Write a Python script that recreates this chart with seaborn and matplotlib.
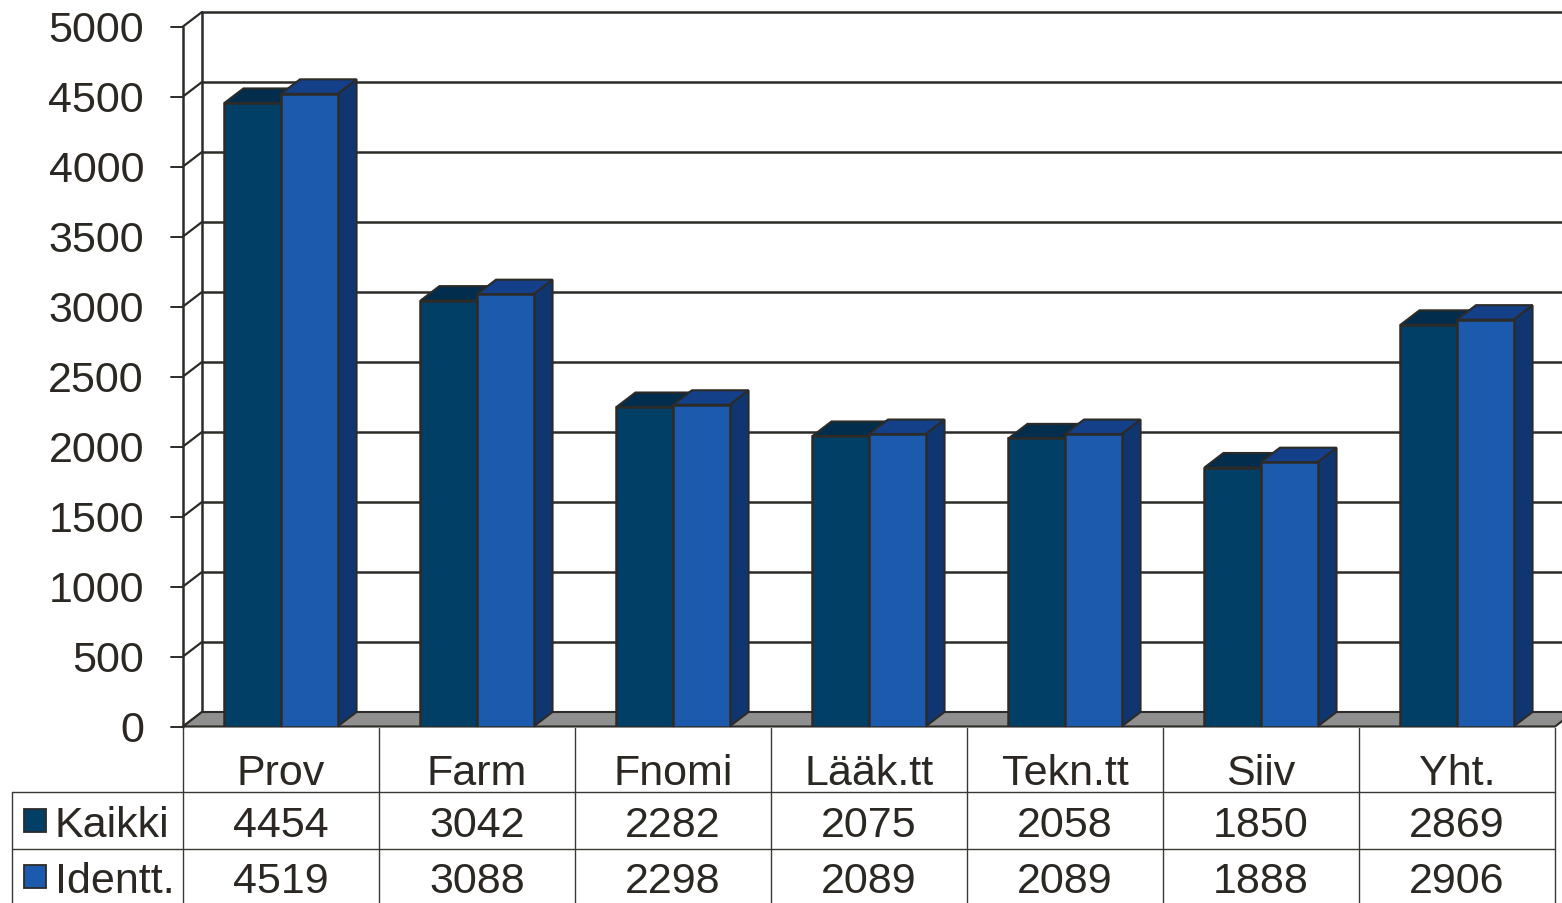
import pandas as pd
import matplotlib
matplotlib.use("Agg")
import matplotlib.pyplot as plt
import matplotlib.transforms as mtransforms
from matplotlib.patches import Polygon, Rectangle
import seaborn as sns

categories = ["Prov", "Farm", "Fnomi", "Lääk.tt", "Tekn.tt", "Siiv", "Yht."]
kaikki = [4454, 3042, 2282, 2075, 2058, 1850, 2869]
identt = [4519, 3088, 2298, 2089, 2089, 1888, 2906]
series_names = ["Kaikki", "Identt."]
y_ticks = [0, 500, 1000, 1500, 2000, 2500, 3000, 3500, 4000, 4500, 5000]

front_colors = ["#023f66", "#1b5aad"]
top_colors = ["#022d4c", "#134088"]
side_colors = ["#01304f", "#0f3670"]
edge = "#2d2b28"
text_color = "#2b2824"
floor_color = "#8f8f8f"

df = pd.DataFrame({
    "kategoria": categories * 2,
    "arvo": kaikki + identt,
    "sarja": [series_names[0]] * len(categories) + [series_names[1]] * len(categories),
})

W, H = 1562, 904
FS = 31
sns.set_style("white")
plt.rcParams["font.family"] = ["Liberation Sans", "DejaVu Sans"]

fig = plt.figure(figsize=(W / 100, H / 100), dpi=100)
ax = fig.add_axes([183 / W, (H - 727.5) / H, (1555 - 183) / W, 700 / H])

sns.barplot(data=df, x="kategoria", y="arvo", hue="sarja", palette=front_colors,
            saturation=1, width=0.577, edgecolor=edge, linewidth=1.8,
            legend=False, zorder=3, ax=ax)
ax.set_xlim(-0.5, len(categories) - 0.5)
ax.set_ylim(0, 5000)
ax.axis("off")

# pseudo 3D depth (pixels)
DX, DY = 19, 14.5
back = ax.transData + mtransforms.Affine2D().translate(DX, DY)
ident = mtransforms.IdentityTransform()
to_px = ax.transData.transform

# floor
p0 = to_px((-0.5, 0))
p1 = to_px((len(categories) - 0.5, 0))
floor = Polygon([p0, p1, (p1[0] + DX, p1[1] + DY), (p0[0] + DX, p0[1] + DY)],
                closed=True, facecolor=floor_color, edgecolor=edge, linewidth=1.5,
                transform=ident, clip_on=False, zorder=2)
ax.add_patch(floor)

# back wall gridlines, left wall, ticks
for v in y_ticks:
    ax.plot([-0.5, len(categories) - 0.5], [v, v], color=edge, lw=1.8,
            transform=back, clip_on=False, zorder=1)
    pf = to_px((-0.5, v))
    ax.plot([pf[0], pf[0] + DX], [pf[1], pf[1] + DY], color=edge, lw=1.6,
            transform=ident, clip_on=False, zorder=1)
    ax.plot([pf[0] - 12, pf[0]], [pf[1], pf[1]], color=edge, lw=1.4,
            transform=ident, clip_on=False, zorder=1)
    ax.text(pf[0] - 39, pf[1] - 15, str(v), ha="right", va="baseline",
            fontsize=FS, color=text_color, transform=ident)
ax.plot([-0.5, -0.5], [0, 5000], color=edge, lw=1.8, clip_on=False, zorder=1)
ax.plot([-0.5, -0.5], [0, 5000], color=edge, lw=1.8, transform=back,
        clip_on=False, zorder=1)

# top and side faces of the bars
for cont, tc, sc in zip(ax.containers, top_colors, side_colors):
    for bar in cont:
        x0, y0 = to_px((bar.get_x(), 0))
        x1, y1 = to_px((bar.get_x() + bar.get_width(), bar.get_height()))
        top = Polygon([(x0, y1), (x1, y1), (x1 + DX, y1 + DY), (x0 + DX, y1 + DY)],
                      closed=True, facecolor=tc, edgecolor=edge, linewidth=1.5,
                      transform=ident, clip_on=False, zorder=2.5)
        side = Polygon([(x1, y0), (x1, y1), (x1 + DX, y1 + DY), (x1 + DX, y0 + DY)],
                       closed=True, facecolor=sc, edgecolor=edge, linewidth=1.5,
                       transform=ident, clip_on=False, zorder=2.5)
        ax.add_patch(side)
        ax.add_patch(top)

# data table below the chart
pxy = mtransforms.Affine2D().scale(1, -1).translate(0, H)
tbl = mtransforms.blended_transform_factory(ax.transData, pxy)
x_left = ax.transData.inverted().transform((12, 0))[0]
line_kw = dict(color="#3a3835", lw=1.0, transform=tbl, clip_on=False, zorder=1)

for yy in [793, 850]:
    ax.plot([x_left, len(categories) - 0.5], [yy, yy], **line_kw)
for k in range(len(categories) + 1):
    ax.plot([k - 0.5, k - 0.5], [728.5, H], **line_kw)
ax.plot([x_left, x_left], [793, H], **line_kw)

for i, cat in enumerate(categories):
    ax.text(i, 785, cat, ha="center", va="baseline", fontsize=FS,
            color=text_color, transform=tbl)
    ax.text(i, 837, str(kaikki[i]), ha="center", va="baseline", fontsize=FS,
            color=text_color, transform=tbl)
    ax.text(i, 893, str(identt[i]), ha="center", va="baseline", fontsize=FS,
            color=text_color, transform=tbl)

for name, col, base in zip(series_names, front_colors, [837, 893]):
    sq = Rectangle((24, H - base + 4), 22, 23, facecolor=col, edgecolor=edge,
                   linewidth=1.3, transform=ident, clip_on=False)
    fig.patches.append(sq)
    fig.text(55 / W, (H - base) / H, name, ha="left", va="baseline",
             fontsize=FS, color=text_color)

plt.savefig("out.png", dpi=100, facecolor="white")
